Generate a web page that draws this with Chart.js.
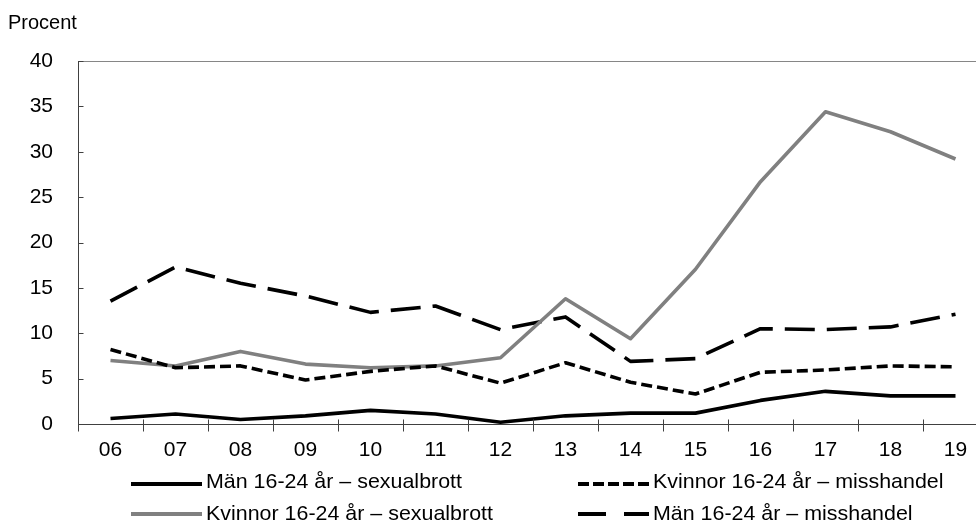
<!DOCTYPE html>
<html>
<head>
<meta charset="utf-8">
<script src="https://cdn.jsdelivr.net/npm/chart.js@4"></script>
<style>
  html, body { margin: 0; padding: 0; background: #fff; overflow: hidden; width: 976px; height: 525px; }
  #wrap { position: relative; width: 976px; height: 525px; overflow: hidden; }
  #c { position: absolute; left: 0; top: 0; }
  .txt { position: absolute; font-family: "Liberation Sans", Arial, sans-serif; font-size: 20px; color: #000; white-space: nowrap; line-height: 24px; }
  .legsvg { position: absolute; }
  .legtxt { position: absolute; font-family: "Liberation Sans", Arial, sans-serif; font-size: 21px; line-height: 24px; white-space: nowrap; color: #000; transform: scaleX(1.02); transform-origin: left center; }
</style>
</head>
<body>
<div id="wrap">
  <canvas id="c" width="1000" height="525"></canvas>
  <div class="txt" id="unit" style="left:8px; top:10px;">Procent</div>
  <div id="legend"></div>
</div>
<script>
// ---- data ----
const years = ['06','07','08','09','10','11','12','13','14','15','16','17','18','19'];
const manSexualbrott = [0.6, 1.1, 0.5, 0.9, 1.5, 1.1, 0.2, 0.9, 1.2, 1.2, 2.6, 3.6, 3.1, 3.1];
const kvinnorMisshandel = [8.2, 6.2, 6.4, 4.85, 5.8, 6.4, 4.5, 6.75, 4.6, 3.3, 5.7, 5.95, 6.4, 6.3];
const kvinnorSexualbrott = [7.0, 6.4, 8.0, 6.6, 6.2, 6.4, 7.3, 13.8, 9.4, 17.05, 26.7, 34.4, 32.2, 29.2];
const manMisshandel = [13.55, 17.3, 15.5, 14.1, 12.3, 13.0, 10.4, 11.8, 6.9, 7.2, 10.5, 10.4, 10.7, 12.1];
const seriesLabels = ['Män 16-24 år – sexualbrott', 'Kvinnor 16-24 år – misshandel', 'Kvinnor 16-24 år – sexualbrott', 'Män 16-24 år – misshandel'];
const yTicks = [0, 5, 10, 15, 20, 25, 30, 35, 40];

const styles = [
  { color: '#000000', dash: [], legDash: [] },
  { color: '#000000', dash: [11, 5], legDash: [11, 4] },
  { color: '#808080', dash: [], legDash: [] },
  { color: '#000000', dash: [30, 12], legDash: [28, 18] }
];
const seriesData = [manSexualbrott, kvinnorMisshandel, kvinnorSexualbrott, manMisshandel];

const axisPlugin = {
  id: 'axisPlugin',
  afterDraw(chart) {
    const ctx = chart.ctx;
    const ca = chart.chartArea;
    const ys = chart.scales.y;
    ctx.save();
    // top border
    ctx.strokeStyle = '#868686';
    ctx.lineWidth = 1;
    ctx.beginPath();
    ctx.moveTo(ca.left, Math.round(ca.top) + 0.5);
    ctx.lineTo(ca.right, Math.round(ca.top) + 0.5);
    ctx.stroke();
    // axes
    ctx.strokeStyle = '#404040';
    ctx.beginPath();
    const xl = Math.round(ca.left) + 0.5;
    const yb = Math.round(ca.bottom) + 0.5;
    ctx.moveTo(xl, ca.top);
    ctx.lineTo(xl, yb + 7);
    ctx.moveTo(ca.left, yb);
    ctx.lineTo(ca.right, yb);
    // x ticks (crossing)
    const n = years.length;
    const step = (ca.right - ca.left) / n;
    for (let i = 1; i <= n; i++) {
      const px = Math.round(ca.left + i * step) + 0.5;
      ctx.moveTo(px, yb - 5);
      ctx.lineTo(px, yb + 7);
    }
    // y ticks (inside)
    yTicks.forEach(v => {
      const py = Math.round(ys.getPixelForValue(v)) + 0.5;
      ctx.moveTo(xl, py);
      ctx.lineTo(xl + 5, py);
    });
    ctx.stroke();
    ctx.restore();
  }
};

new Chart(document.getElementById('c'), {
  type: 'line',
  data: {
    labels: years,
    datasets: seriesData.map((d, i) => ({
      label: seriesLabels[i],
      data: d,
      borderColor: styles[i].color,
      borderDash: styles[i].dash,
      borderWidth: 3.6,
      borderCapStyle: 'butt',
      borderJoinStyle: 'round',
      pointRadius: 0,
      tension: 0,
      fill: false
    }))
  },
  options: {
    responsive: false,
    animation: false,
    devicePixelRatio: 1,
    layout: { padding: { top: 61, right: 12, left: 0, bottom: 0 } },
    plugins: { legend: { display: false }, tooltip: { enabled: false } },
    scales: {
      x: {
        type: 'category',
        offset: true,
        grid: { display: false, offset: true },
        border: { display: false },
        ticks: { color: '#000', font: { family: '"Liberation Sans", Arial, sans-serif', size: 21 }, padding: 6, maxRotation: 0, autoSkip: false },
        afterFit(s) { s.height = 101; }
      },
      y: {
        min: 0, max: 40,
        afterBuildTicks(s) { s.ticks = yTicks.map(v => ({ value: v })); },
        grid: { display: false },
        border: { display: false },
        ticks: { color: '#000', font: { family: '"Liberation Sans", Arial, sans-serif', size: 21 }, padding: 17 },
        afterFit(s) { s.width = 78; }
      }
    }
  },
  plugins: [axisPlugin]
});

// ---- HTML legend ----
const legPos = [
  { x: 131, lineY: 484, textTop: 469 },
  { x: 578, lineY: 484, textTop: 469 },
  { x: 131, lineY: 514, textTop: 501 },
  { x: 578, lineY: 514, textTop: 501 }
];
const legendEl = document.getElementById('legend');
seriesLabels.forEach((lab, i) => {
  const p = legPos[i];
  const svg = document.createElementNS('http://www.w3.org/2000/svg', 'svg');
  svg.setAttribute('class', 'legsvg');
  svg.setAttribute('width', '72');
  svg.setAttribute('height', '10');
  svg.style.left = p.x + 'px';
  svg.style.top = (p.lineY - 5) + 'px';
  const line = document.createElementNS('http://www.w3.org/2000/svg', 'line');
  line.setAttribute('x1', '0'); line.setAttribute('x2', '71');
  line.setAttribute('y1', '5'); line.setAttribute('y2', '5');
  line.setAttribute('stroke', styles[i].color);
  line.setAttribute('stroke-width', '4');
  if (styles[i].legDash.length) line.setAttribute('stroke-dasharray', styles[i].legDash.join(' '));
  svg.appendChild(line);
  legendEl.appendChild(svg);
  const t = document.createElement('div');
  t.className = 'legtxt';
  t.style.left = (p.x + 75) + 'px';
  t.style.top = p.textTop + 'px';
  t.textContent = lab;
  legendEl.appendChild(t);
});
</script>
</body>
</html>
